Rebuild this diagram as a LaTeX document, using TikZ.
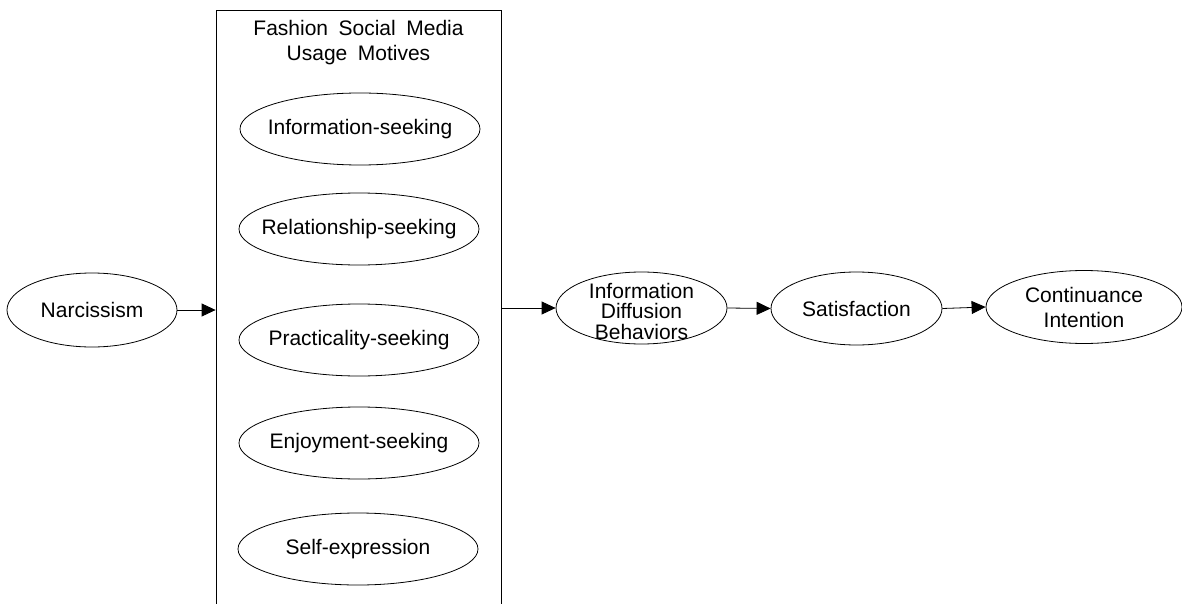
\documentclass[tikz,border=0pt]{standalone}
\usepackage{fontspec}
\setmainfont{Liberation Sans}
\usetikzlibrary{shapes.geometric,arrows.meta}
\begin{document}
\begin{tikzpicture}[x=1pt,y=-1pt,
  every node/.style={font=\fontsize{21}{24}\selectfont},
  oval/.style={draw,ellipse,inner sep=0pt,line width=0.8pt},
  motive/.style={oval,minimum width=240pt,minimum height=72pt},
  conn/.style={line width=0.8pt,-{Triangle[length=14pt,width=13pt]}}]
\useasboundingbox (0,0) rectangle (1182,604);
\clip (0,0) rectangle (1182,604);
% box of motives (open at the bottom edge of the picture)
\node[draw,line width=0.8pt,minimum width=285pt,minimum height=620pt,inner sep=0pt] (box) at (358.5,320) {};
\node[align=center,font=\fontsize{21}{25}\selectfont] (title) at (358.5,42.5)
  {{\spaceskip=10.5pt Fashion Social Media}\\{\spaceskip=10.5pt Usage Motives}};
% motives
\node[motive,label=center:{Information-seeking}] (info) at (360,129) {};
\node[motive,label=center:{Relationship-seeking}] (rel) at (359,229) {};
\node[motive,label=center:{Practicality-seeking}] (prac) at (359,340) {};
\node[motive,label=center:{Enjoyment-seeking}] (enj) at (359,443) {};
\node[motive,label=center:{Self-expression}] (self) at (358,549) {};
% other constructs
\node[oval,minimum width=170pt,minimum height=74pt,label=center:{Narcissism}] (narc) at (92,310) {};
\node[oval,minimum width=171pt,minimum height=72pt,
  label={[align=center,font=\fontsize{21}{20.5}\selectfont,yshift=-3pt]center:{Information\\Diffusion\\Behaviors}}] (idb) at (641.5,308) {};
\node[oval,minimum width=171pt,minimum height=73pt,label=center:{Satisfaction}] (sat) at (856.5,308.5) {};
\node[oval,minimum width=196pt,minimum height=73pt,
  label={[align=center,font=\fontsize{21}{25}\selectfont]center:{Continuance\\Intention}}] (ci) at (1084,307) {};
% connectors
\draw[conn] (narc.east) -- (narc.east -| box.west);
\draw[conn] (idb.west -| box.east) -- (idb.west);
\draw[conn] (idb.east) -- (sat.west);
\draw[conn] (sat.east) -- (ci.west);
\end{tikzpicture}
\end{document}
